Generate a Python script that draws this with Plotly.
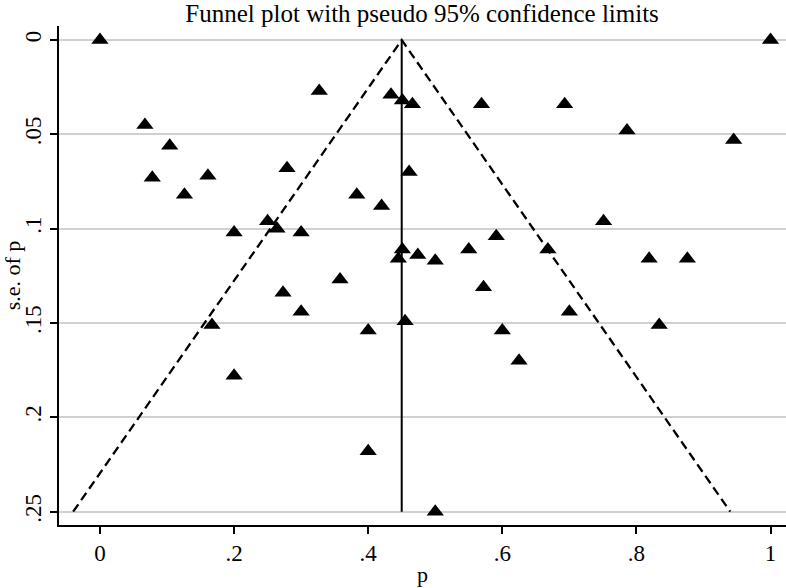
import plotly.graph_objects as go

# Study estimates: proportion p and its standard error
p_vals = [0.000, 1.000, 0.067, 0.104, 0.078, 0.161, 0.126, 0.279, 0.327, 0.434,
          0.451, 0.466, 0.569, 0.461, 0.383, 0.420, 0.693, 0.786, 0.945, 0.250,
          0.264, 0.200, 0.300, 0.273, 0.167, 0.451, 0.445, 0.474, 0.500, 0.550,
          0.591, 0.358, 0.572, 0.300, 0.455, 0.400, 0.600, 0.751, 0.668, 0.819,
          0.876, 0.700, 0.834, 0.625, 0.200, 0.400, 0.500]
se_vals = [0.000, 0.000, 0.045, 0.056, 0.073, 0.072, 0.082, 0.068, 0.027, 0.029,
           0.032, 0.034, 0.034, 0.070, 0.082, 0.088, 0.034, 0.048, 0.053, 0.096,
           0.100, 0.102, 0.102, 0.134, 0.151, 0.111, 0.116, 0.114, 0.117, 0.111,
           0.104, 0.127, 0.131, 0.144, 0.149, 0.154, 0.154, 0.096, 0.111, 0.116,
           0.116, 0.144, 0.151, 0.170, 0.178, 0.218, 0.250]

pooled = 0.45
se_max = 0.25
z = 1.96

x_ticks = [0, 0.2, 0.4, 0.6, 0.8, 1]
x_labels = ["0", ".2", ".4", ".6", ".8", "1"]
y_ticks = [0, 0.05, 0.1, 0.15, 0.2, 0.25]
y_labels = ["0", ".05", ".1", ".15", ".2", ".25"]

font_family = "Liberation Serif, Times New Roman, serif"

fig = go.Figure()

# pseudo 95% confidence limits
fig.add_trace(go.Scatter(
    x=[pooled - z * se_max, pooled, pooled + z * se_max],
    y=[se_max, 0, se_max],
    mode="lines",
    line=dict(color="black", width=2.3, dash="9px,5px"),
    hoverinfo="skip", showlegend=False))

# pooled estimate line
fig.add_trace(go.Scatter(
    x=[pooled, pooled], y=[0, se_max],
    mode="lines",
    line=dict(color="black", width=2),
    hoverinfo="skip", showlegend=False))

# studies
fig.add_trace(go.Scatter(
    x=p_vals, y=se_vals, mode="markers",
    marker=dict(symbol="triangle-up", size=15, color="black"),
    showlegend=False, cliponaxis=False))

fig.update_layout(
    width=786, height=588,
    margin=dict(l=59, r=0, t=26, b=63, autoexpand=False),
    paper_bgcolor="white", plot_bgcolor="white",
    font=dict(family=font_family, size=22, color="black"),
    title=dict(text="Funnel plot with pseudo 95% confidence limits",
               x=0.537, xanchor="center", y=0.978, yanchor="middle",
               font=dict(family=font_family, size=25, color="black")),
)

fig.update_xaxes(
    range=[-0.0611, 1.0231],
    tickvals=x_ticks, ticktext=x_labels,
    showgrid=False, zeroline=False, automargin=False,
    showline=True, linecolor="black", linewidth=1.5,
    ticks="outside", ticklen=7, tickwidth=1.5, tickcolor="black",
    tickfont=dict(size=23),
    title=dict(text="p", font=dict(size=22), standoff=1),
)

fig.update_yaxes(
    range=[0.25705, -0.00742],
    tickvals=y_ticks, ticktext=y_labels,
    tickangle=-90, automargin=False,
    showgrid=True, gridcolor="#d0d0d0", gridwidth=1.5,
    zeroline=False,
    showline=True, linecolor="black", linewidth=1.5,
    ticks="outside", ticklen=7, tickwidth=1.5, tickcolor="black",
    tickfont=dict(size=23),
    title=dict(text="s.e. of p", font=dict(size=22), standoff=3),
)

fig.write_html("out.html",
               config={"displayModeBar": False},
               post_script="document.body.style.margin='0';document.body.style.padding='0';")
